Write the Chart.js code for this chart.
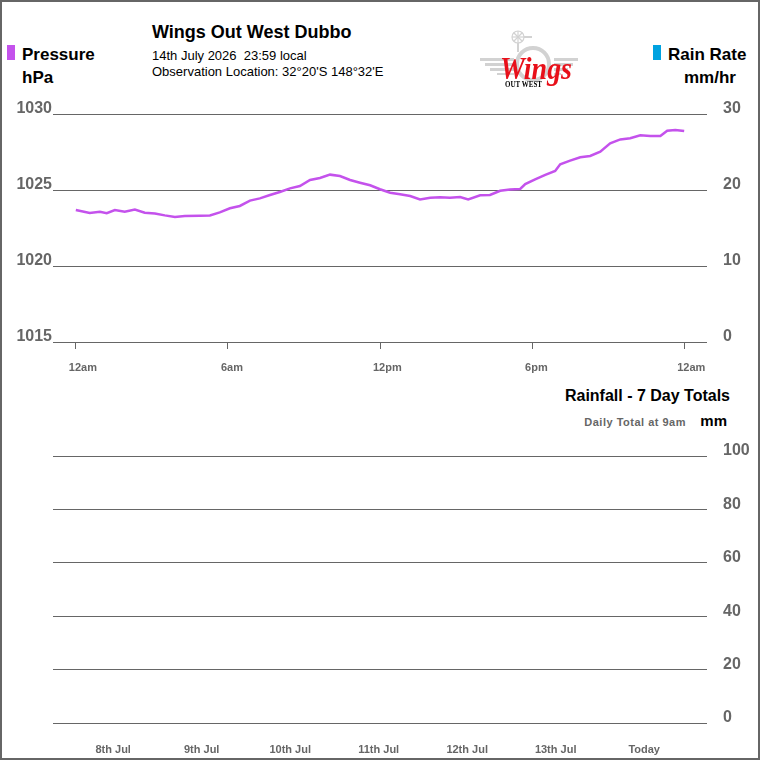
<!DOCTYPE html>
<html lang="en">
<head>
    <meta charset="UTF-8" />
    <title>Wings Out West Dubbo</title>
    <script src="https://cdn.jsdelivr.net/npm/chart.js"></script>
    <style>
        body { margin: 0; background: #fff; font-family: "Liberation Sans", Arial, sans-serif; }
        #frame { position: relative; width: 760px; height: 760px; box-sizing: border-box; border: 2px solid #666; overflow: hidden; }
        .txt { position: absolute; white-space: nowrap; color: #000; }
        .box { position: absolute; width: 8px; height: 15px; }
    </style>
</head>
<body>
<div id="frame">
    <div class="box" style="left:5px; top:43px; background:#c452ec;"></div>
    <div class="txt" style="left:20px; top:43px; font-size:17px; font-weight:bold;">Pressure</div>
    <div class="txt" style="left:20px; top:66px; font-size:17px; font-weight:bold;">hPa</div>

    <div class="txt" style="left:150px; top:20px; font-size:18px; font-weight:bold;">Wings Out West Dubbo</div>
    <div class="txt" style="left:150px; top:46px; font-size:13px;">14th July 2026&nbsp; 23:59 local</div>
    <div class="txt" style="left:150px; top:62px; font-size:13px;">Observation Location: 32°20'S 148°32'E</div>

    <canvas id="logo" width="130" height="80" style="position:absolute; left:468px; top:18px;"></canvas>

    <div class="box" style="left:651px; top:43px; background:#00a2e0;"></div>
    <div class="txt" style="left:666px; top:43px; font-size:17px; font-weight:bold;">Rain Rate</div>
    <div class="txt" style="left:682px; top:66px; font-size:17px; font-weight:bold;">mm/hr</div>

    <div style="position:absolute; left:-2px; top:98px; width:760px; height:285px;">
        <canvas id="pressureChart"></canvas>
    </div>

    <div class="txt" style="right:28px; top:385px; font-size:16px; font-weight:bold;">Rainfall - 7 Day Totals</div>
    <div class="txt" style="right:72px; top:414px; font-size:11px; font-weight:bold; color:#666; letter-spacing:0.5px;">Daily Total at 9am</div>
    <div class="txt" style="right:31px; top:410px; font-size:15px; font-weight:bold;">mm</div>

    <div style="position:absolute; left:-2px; top:438px; width:760px; height:318px;">
        <canvas id="rainChart"></canvas>
    </div>
</div>

<script>
    // pressure readings, hours since midnight
    const hours = [0, 0.55, 0.95, 1.22, 1.54, 1.93, 2.33, 2.72, 3.12, 3.51, 3.91, 4.3, 4.9, 5.29, 5.68,
        6.08, 6.47, 6.87, 7.26, 7.66, 8.05, 8.45, 8.84, 9.24, 9.63, 10.03, 10.42, 10.82, 11.21, 11.61,
        12, 12.4, 12.79, 13.19, 13.58, 13.98, 14.37, 14.76, 15.16, 15.48, 15.95, 16.34, 16.74, 17.13,
        17.53, 17.73, 18.12, 18.52, 18.91, 19.11, 19.5, 19.9, 20.29, 20.69, 21.08, 21.48, 21.87, 22.27,
        22.66, 23.06, 23.33, 23.65, 24];
    const pressure = [1023.68, 1023.49, 1023.57, 1023.47, 1023.68, 1023.57, 1023.72, 1023.51, 1023.46,
        1023.33, 1023.22, 1023.29, 1023.31, 1023.33, 1023.53, 1023.8, 1023.95, 1024.3, 1024.45, 1024.67,
        1024.87, 1025.11, 1025.26, 1025.66, 1025.79, 1026.01, 1025.92, 1025.66, 1025.48, 1025.31,
        1025.05, 1024.82, 1024.72, 1024.6, 1024.38, 1024.49, 1024.52, 1024.49, 1024.54, 1024.38,
        1024.65, 1024.67, 1024.95, 1025.04, 1025.07, 1025.39, 1025.7, 1025.99, 1026.25, 1026.69,
        1026.93, 1027.15, 1027.24, 1027.52, 1028.07, 1028.33, 1028.4, 1028.6, 1028.55, 1028.55,
        1028.9, 1028.95, 1028.88];
    const rainRate = []; // no rain today

    const timeTicks = [0, 6, 12, 18, 24];
    const timeLabels = ['12am', '6am', '12pm', '6pm', '12am'];

    const days = ['8th Jul', '9th Jul', '10th Jul', '11th Jul', '12th Jul', '13th Jul', 'Today'];
    const rainfall = [0, 0, 0, 0, 0, 0, 0];

    const grey = '#666';
    const bigTick = { family: 'Liberation Sans', size: 16, weight: 'bold' };
    const smallTick = { family: 'Liberation Sans', size: 11, weight: 'bold' };

    // keep the plot area where the layout padding puts it
    const noPadY = ax => { ax.paddingTop = 0; ax.paddingBottom = 0; };
    const noPadX = ax => { ax.paddingLeft = 0; ax.paddingRight = 0; };

    Chart.defaults.animation = false;
    Chart.defaults.responsive = true;
    Chart.defaults.maintainAspectRatio = false;

    new Chart(document.getElementById('pressureChart'), {
        type: 'line',
        data: {
            datasets: [{
                label: 'Pressure',
                data: hours.map((h, i) => ({ x: h, y: pressure[i] })),
                borderColor: '#c452ec',
                borderWidth: 2.5,
                pointRadius: 0,
                yAxisID: 'y'
            }, {
                label: 'Rain Rate',
                data: rainRate,
                borderColor: '#00a2e0',
                borderWidth: 2,
                pointRadius: 0,
                yAxisID: 'y1'
            }]
        },
        options: {
            layout: { padding: { top: 14, bottom: 0, left: 0, right: 0 } },
            plugins: { legend: { display: false }, tooltip: { enabled: false } },
            scales: {
                x: {
                    type: 'linear',
                    min: -0.9,
                    max: 24.9,
                    afterBuildTicks: ax => { ax.ticks = timeTicks.map(v => ({ value: v })); },
                    afterFit: ax => { ax.height = 43; noPadX(ax); },
                    grid: { drawOnChartArea: false, drawTicks: true, tickLength: 7, color: grey },
                    border: { display: false },
                    ticks: {
                        autoSkip: false,
                        maxRotation: 0,
                        align: 'start',
                        labelOffset: -7,
                        padding: 12,
                        color: grey,
                        font: smallTick,
                        callback: v => timeLabels[timeTicks.indexOf(v)]
                    }
                },
                y: {
                    position: 'left',
                    min: 1015,
                    max: 1030,
                    afterFit: ax => { ax.width = 53; noPadY(ax); },
                    grid: { color: grey, drawTicks: false },
                    border: { display: false },
                    ticks: { stepSize: 5, padding: 1, labelOffset: -5, color: grey, font: bigTick,
                        callback: v => String(v) }
                },
                y1: {
                    position: 'right',
                    min: 0,
                    max: 30,
                    afterFit: ax => { ax.width = 53; noPadY(ax); },
                    grid: { drawOnChartArea: false, drawTicks: false },
                    border: { display: false },
                    ticks: { stepSize: 10, padding: 16, labelOffset: -5, color: grey, font: bigTick }
                }
            }
        }
    });

    new Chart(document.getElementById('rainChart'), {
        type: 'bar',
        data: {
            datasets: [{
                label: 'Rainfall',
                data: rainfall.map((r, i) => ({ x: i, y: r })),
                backgroundColor: '#00a2e0',
                barPercentage: 0.6,
                categoryPercentage: 1
            }]
        },
        options: {
            layout: { padding: { top: 16, bottom: 0, left: 53, right: 0 } },
            plugins: { legend: { display: false }, tooltip: { enabled: false } },
            scales: {
                x: {
                    type: 'linear',
                    min: -0.68,
                    max: 6.71,
                    offset: false,
                    afterBuildTicks: ax => { ax.ticks = days.map((d, i) => ({ value: i })); },
                    afterFit: ax => { ax.height = 35; noPadX(ax); },
                    grid: { display: false },
                    border: { display: false },
                    ticks: {
                        autoSkip: false,
                        maxRotation: 0,
                        padding: 12,
                        color: grey,
                        font: smallTick,
                        callback: v => days[v]
                    }
                },
                y: {
                    position: 'right',
                    min: 0,
                    max: 100,
                    afterFit: ax => { ax.width = 53; noPadY(ax); },
                    grid: { color: grey, drawTicks: false },
                    border: { display: false },
                    ticks: { stepSize: 20, padding: 16, labelOffset: -5, color: grey, font: bigTick }
                }
            }
        }
    });

    // little logo in the header
    const lg = document.getElementById('logo').getContext('2d');
    const wingGrey = '#d2d2d2';
    lg.fillStyle = wingGrey;
    const stripes = [[38, 10, 3], [43, 15, 3], [48, 20, 3], [53, 27, 2]];
    stripes.forEach(([y, x0, h]) => {
        lg.fillRect(x0, y, 44 - x0, h);
        lg.fillRect(84, y, 118 - x0 - 84, h);
    });
    lg.strokeStyle = wingGrey;
    lg.lineWidth = 4;
    lg.beginPath();
    lg.arc(63, 44, 16, 0, Math.PI * 2);
    lg.stroke();
    // windmill
    lg.lineWidth = 1.2;
    lg.beginPath();
    lg.arc(48, 17, 6, 0, Math.PI * 2);
    lg.stroke();
    for (let a = 0; a < 8; a++) {
        lg.beginPath();
        lg.moveTo(48, 17);
        lg.lineTo(48 + 6 * Math.cos(a * Math.PI / 4), 17 + 6 * Math.sin(a * Math.PI / 4));
        lg.stroke();
    }
    lg.lineWidth = 2;
    lg.beginPath();
    lg.moveTo(54, 17); lg.lineTo(62, 17);
    lg.moveTo(48, 23); lg.lineTo(48, 32);
    lg.stroke();
    // red script word
    lg.save();
    lg.fillStyle = '#e8101a';
    lg.font = 'italic bold 28px "Liberation Serif"';
    let w = lg.measureText('Wings').width;
    lg.translate(30, 59);
    lg.scale(72 / w, 1.15);
    lg.fillText('Wings', 0, 0);
    lg.restore();
    lg.save();
    lg.fillStyle = '#000';
    lg.font = 'bold 8px "Liberation Serif"';
    w = lg.measureText('OUT WEST').width;
    lg.translate(35, 67);
    lg.scale(37 / w, 1);
    lg.fillText('OUT WEST', 0, 0);
    lg.restore();
</script>
</body>
</html>
